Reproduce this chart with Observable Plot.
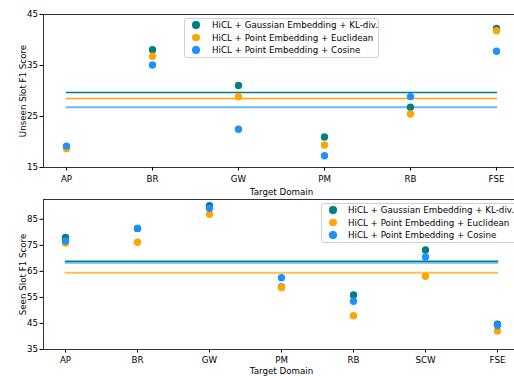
<!DOCTYPE html>
<html>
<head>
<meta charset="utf-8">
<script src="https://cdn.jsdelivr.net/npm/d3@7"></script>
<script src="https://cdn.jsdelivr.net/npm/@observablehq/plot@0.6"></script>
<style>
  html, body { margin: 0; padding: 0; background: #fff; overflow: hidden; }
  #wrap { position: relative; width: 514px; height: 376px; overflow: hidden; font-family: "DejaVu Sans", sans-serif; }
  .panel { position: absolute; left: 0; max-width: none !important; }
  .legend { position: absolute; background: rgba(255,255,255,0.85); border: 1px solid #d0d0d0; border-radius: 3px; box-sizing: border-box; font-size: 8.7px; color: #000; }
  .legend .row { position: absolute; white-space: nowrap; }
  .legend .sw { position: absolute; width: 7.4px; height: 7.4px; border-radius: 50%; }
</style>
</head>
<body>
<div id="wrap"></div>
<script>
const seriesNames = [
  "HiCL + Gaussian Embedding + KL-div.",
  "HiCL + Point Embedding + Euclidean",
  "HiCL + Point Embedding + Cosine"
];
const seriesColors = ["#008080", "#ffa500", "#1e90ff"];

const unseenDomains = ["AP", "BR", "GW", "PM", "RB", "FSE"];
const unseenGauss  = [19.0, 38.1, 31.1, 21.0, 26.8, 42.25];
const unseenEuclid = [18.7, 36.8, 28.9, 19.4, 25.5, 41.8];
const unseenCosine = [19.2, 35.1, 22.5, 17.3, 28.9, 37.8];
const unseenTicks = [15, 25, 35, 45];

const seenDomains = ["AP", "BR", "GW", "PM", "RB", "SCW", "FSE"];
const seenGauss  = [78.0, 81.5, 90.2, 59.0, 55.9, 73.2, 44.7];
const seenEuclid = [75.9, 76.2, 86.9, 58.8, 48.0, 63.1, 42.1];
const seenCosine = [76.7, 81.5, 89.2, 62.6, 53.5, 70.5, 44.2];
const seenTicks = [35, 45, 55, 65, 75, 85];

const wrap = document.getElementById("wrap");

function makePanel({domains, series, yDomain, yTicks, yLabel, top, height, mTop, mBottom, xTickPadding, xLabelOffset, lineStyles}) {
  const rows = [];
  series.forEach((vals, s) => vals.forEach((v, i) => rows.push({x: domains[i], y: v, s})));
  const means = series.map((vals, s) => ({s, y: d3.mean(vals)}));
  const lineMarks = lineStyles.map(({s, w, o}) =>
    Plot.line(
      [{x: domains[0], y: means[s].y}, {x: domains[domains.length - 1], y: means[s].y}],
      {x: "x", y: "y", stroke: seriesColors[s], strokeWidth: w, strokeOpacity: o}
    )
  );
  const chart = Plot.plot({
    width: 522,
    height,
    marginLeft: 43,
    marginRight: 3,
    marginTop: mTop,
    marginBottom: mBottom,
    style: {fontFamily: "DejaVu Sans, sans-serif", fontSize: "8.7px", background: "transparent", color: "#000", maxWidth: "none"},
    x: {type: "point", domain: domains, range: [65, 497], padding: 0},
    y: {domain: yDomain},
    marks: [
      ...lineMarks,
      Plot.dot(rows, {x: "x", y: "y", r: 3.7, fill: d => seriesColors[d.s], stroke: "none"}),
      Plot.frame({stroke: "#333", strokeWidth: 1}),
      Plot.axisY({ticks: yTicks, tickSize: 3.5, tickPadding: 2, label: yLabel, labelAnchor: "center", labelArrow: "none", labelOffset: 24}),
      Plot.axisX({tickSize: 3.5, tickPadding: xTickPadding, label: "Target Domain", labelAnchor: "center", labelArrow: "none", labelOffset: xLabelOffset})
    ]
  });
  chart.classList.add("panel");
  chart.style.top = top + "px";
  chart.style.maxWidth = "none";
  wrap.appendChild(chart);
}

function makeLegend({left, top, width, height, mx, tx, rowYs}) {
  const lg = document.createElement("div");
  lg.className = "legend";
  Object.assign(lg.style, {left: left + "px", top: top + "px", width: width + "px", height: height + "px"});
  seriesNames.forEach((name, i) => {
    const sw = document.createElement("div");
    sw.className = "sw";
    Object.assign(sw.style, {left: (mx - left - 3.7 - 1) + "px", top: (rowYs[i] - top - 3.7 - 1) + "px", background: seriesColors[i]});
    lg.appendChild(sw);
    const t = document.createElement("div");
    t.className = "row";
    t.textContent = name;
    Object.assign(t.style, {left: (tx - left - 1) + "px", top: (rowYs[i] - top - 6) + "px", lineHeight: "10px"});
    lg.appendChild(t);
  });
  wrap.appendChild(lg);
}

makePanel({
  domains: unseenDomains,
  series: [unseenGauss, unseenEuclid, unseenCosine],
  yDomain: [15, 45], yTicks: unseenTicks, yLabel: "Unseen Slot F1 Score",
  top: 0, height: 198, mTop: 14, mBottom: 31, xTickPadding: 5, xLabelOffset: 27,
  lineStyles: [{s: 0, w: 1.5, o: 1}, {s: 1, w: 1.5, o: 1}, {s: 2, w: 2, o: 0.65}]
});

makePanel({
  domains: seenDomains,
  series: [seenGauss, seenEuclid, seenCosine],
  yDomain: [35, 92.6], yTicks: seenTicks, yLabel: "Seen Slot F1 Score",
  top: 185, height: 191, mTop: 14, mBottom: 27, xTickPadding: 3.5, xLabelOffset: 24,
  lineStyles: [{s: 2, w: 2, o: 0.65}, {s: 0, w: 1.5, o: 1}, {s: 1, w: 2, o: 0.7}]
});

makeLegend({left: 184, top: 18, width: 195, height: 40, mx: 196, tx: 212, rowYs: [25, 37.5, 50]});
makeLegend({left: 321, top: 203, width: 200, height: 40, mx: 333, tx: 348, rowYs: [210, 222.5, 235]});
</script>
</body>
</html>
